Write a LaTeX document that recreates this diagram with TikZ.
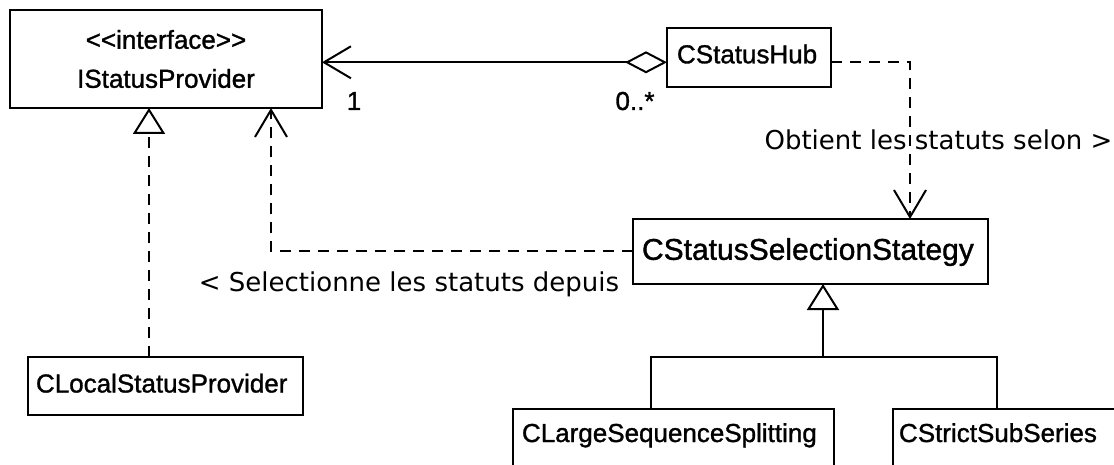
\documentclass[tikz,border=0pt]{standalone}
\usepackage{fontspec}
\setmainfont{Liberation Sans}
\newfontfamily\clsfont{Liberation Sans}[FakeBold=1.2]
\newfontfamily\lblfont{DejaVu Sans}
\usetikzlibrary{arrows.meta}
\tikzset{
  cls/.style={draw, line width=2pt, inner ysep=0pt, outer sep=0pt, anchor=north west, align=left,
    font=\clsfont\fontsize{26}{30}\selectfont},
  mult/.style={inner sep=0pt, anchor=base, font=\clsfont\fontsize{26}{30}\selectfont},
  rolelbl/.style={inner sep=0pt, anchor=base, font=\lblfont\fontsize{26}{30}\selectfont},
  depline/.style={line width=2pt, dash pattern=on 11pt off 8pt, -{Straight Barb[length=27pt,width=32pt,line width=2pt]}},
  realline/.style={line width=2pt, dash pattern=on 11pt off 8pt, -{Triangle[open,length=26pt,width=32pt,line width=2pt]}},
  genline/.style={line width=2pt, -{Triangle[open,length=26pt,width=32pt,line width=2pt]}},
  aggrline/.style={line width=2pt, {Diamond[open,length=42pt,width=22pt,line width=2pt]}-{Straight Barb[length=27pt,width=32pt,line width=2pt]}},
}
\begin{document}
\begin{tikzpicture}[x=1pt,y=-1pt]
\path[use as bounding box, fill=white] (0,0) rectangle (1114,465);
\clip (0,0) rectangle (1114,465);

% classes
\node[draw, line width=2pt, inner sep=0pt, outer sep=0pt, anchor=north west, align=center,
      minimum width=312pt, minimum height=98pt, font=\clsfont\fontsize{26}{39}\selectfont]
      (isp) at (10,10) {{<}{<}interface{>}{>}\\IStatusProvider};
\node[cls, inner xsep=10pt, text width=144pt, text height=35.3pt, text depth=23.7pt]
      (hub) at (667,28) {CStatusHub};
\node[cls, inner xsep=9pt, text width=337pt, text height=40.8pt, text depth=24.2pt,
      font=\clsfont\fontsize{30}{34}\selectfont]
      (csss) at (633,219) {CStatusSelectionStategy};
\node[cls, inner xsep=8pt, text width=259pt, text height=35.5pt, text depth=22.5pt]
      (clocal) at (28,357) {CLocalStatusProvider};
\node[cls, inner xsep=9pt, text width=303pt, text height=33pt, text depth=30pt]
      (clarge) at (513,409) {CLargeSequenceSplitting};
\node[cls, inner xsep=6pt, text width=220pt, text height=33pt, text depth=30pt]
      (cstrict) at (893,409) {CStrictSubSeries};

% aggregation CStatusHub -> IStatusProvider
\coordinate (hubA) at ([yshift=-4.8pt]hub.west);
\draw[aggrline] (hubA) -- (isp.east |- hubA);
\node[mult] (one) at (354,110) {1};
\node[mult] (many) at (635,110) {0..*};

% dependency CStatusHub -> CStatusSelectionStategy
\coordinate (hubB) at ([yshift=-4.8pt]hub.east);
\draw[depline] (hubB) -| ([xshift=99.5pt]csss.north);
\node[rolelbl] (obt) at (938.5,150) {Obtient les statuts selon >};

% dependency CStatusSelectionStategy -> IStatusProvider
\draw[depline] (csss.west) -| ([xshift=105pt]isp.south);
\node[rolelbl] (sel) at (409,291) {< Selectionne les statuts depuis};

% realization CLocalStatusProvider -> IStatusProvider
\draw[realline] ([xshift=-16.5pt]clocal.north) -- ([xshift=-17pt]isp.south);

% generalization tree
\coordinate (bar) at (823,357);
\draw[genline] (bar) -- (csss.south -| bar);
\draw[line width=2pt] ([xshift=-22.5pt]clarge.north) |- (bar) -| ([xshift=-12pt]cstrict.north);
\end{tikzpicture}
\end{document}
